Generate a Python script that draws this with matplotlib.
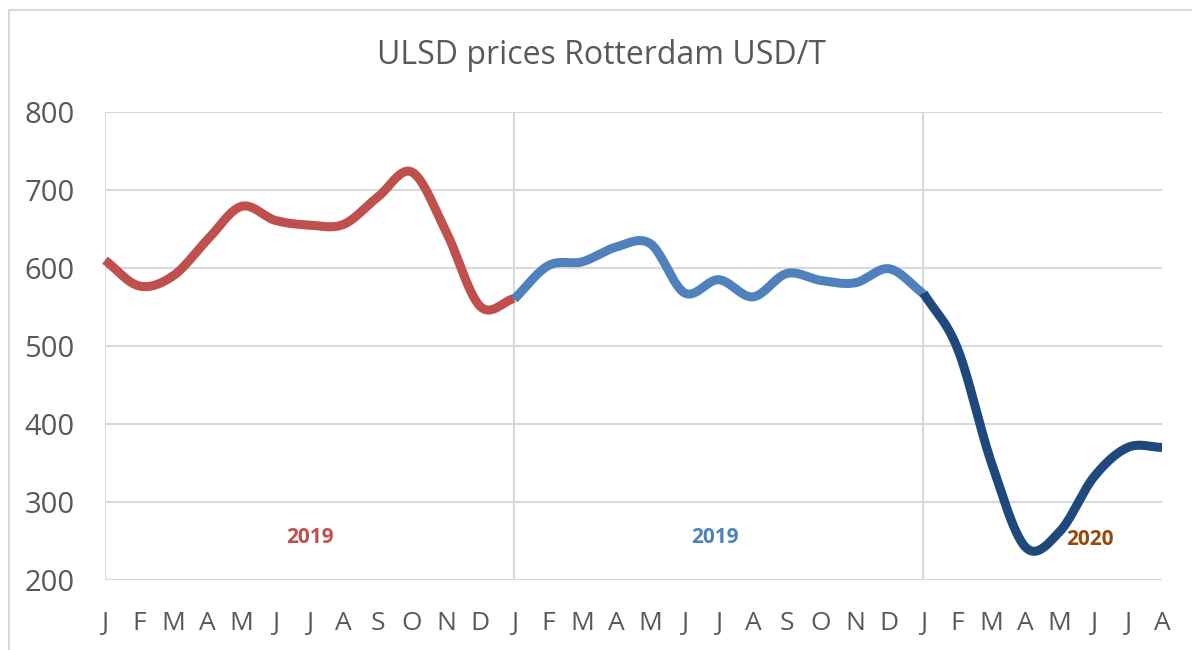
import numpy as np
import matplotlib.pyplot as plt
from matplotlib.patches import Rectangle

plt.rcParams['font.family'] = ['Open Sans', 'DejaVu Sans']

month_labels = list("JFMAMJJASOND") * 2 + list("JFMAMJJA")

# monthly prices, USD/T
prices_a = [610, 577, 590, 636, 679, 661, 655, 656, 691, 723, 647, 551, 561]   # J..J
prices_b = [560, 603, 608, 627, 631, 568, 585, 563, 593, 584, 581, 599, 567]   # J..J
prices_c = [568, 497, 350, 242, 262, 332, 370, 370]                          # J..A

start_a, start_b, start_c = 0, 12, 24

colors = ['#C0504D', '#4F81BD', '#1F497D']
year_labels = ['2019', '2019', '2020']
year_label_colors = ['#C0504D', '#4F81BD', '#984807']
year_label_pos = [(6.0, 254), (17.9, 254), (28.9, 252)]


def smooth(x, y, n=30):  # catmull-rom curve through the points, like excel's smoothed line
    x = np.asarray(x, float)
    y = np.asarray(y, float)
    px = np.concatenate([[2 * x[0] - x[1]], x, [2 * x[-1] - x[-2]]])
    py = np.concatenate([[2 * y[0] - y[1]], y, [2 * y[-1] - y[-2]]])
    t = np.linspace(0, 1, n)[:-1]
    xs, ys = [], []
    for i in range(1, len(px) - 2):
        for p, out in ((px, xs), (py, ys)):
            p0, p1, p2, p3 = p[i - 1], p[i], p[i + 1], p[i + 2]
            out.append(0.5 * (2 * p1 + (-p0 + p2) * t + (2 * p0 - 5 * p1 + 4 * p2 - p3) * t ** 2
                              + (-p0 + 3 * p1 - 3 * p2 + p3) * t ** 3))
    xs.append([x[-1]])
    ys.append([y[-1]])
    return np.concatenate(xs), np.concatenate(ys)


fig = plt.figure(figsize=(11.92, 6.5), dpi=100)
ax = fig.add_axes([105 / 1192, 1 - 580 / 650, (1162 - 105) / 1192, (580 - 112) / 650])

# chart border
fig.patches.append(Rectangle((9 / 1192, -0.1), 1.2, 1 - 10 / 650 + 0.1, transform=fig.transFigure,
                             fill=False, edgecolor='#D9D9D9', linewidth=1.5))

series = [(start_a, prices_a), (start_b, prices_b), (start_c, prices_c)]
for i, (start, vals) in enumerate(series):
    xs, ys = smooth(np.arange(start, start + len(vals)), vals)
    ax.plot(xs, ys, color=colors[i], linewidth=6.5, solid_capstyle='butt', zorder=3 + i, clip_on=False)

for i, (xp, yp) in enumerate(year_label_pos):
    ax.text(xp, yp, year_labels[i], color=year_label_colors[i], fontsize=15, fontweight='bold',
            ha='center', va='center', zorder=10)

for xv in (0, 12, 24):
    ax.axvline(xv, color='#D9D9D9', linewidth=1.5, zorder=1)

ax.set_xlim(0, 31)
ax.set_ylim(200, 800)
ax.set_yticks(range(200, 801, 100))
ax.set_xticks(range(len(month_labels)))
ax.set_xticklabels(month_labels)
ax.yaxis.grid(True, color='#D9D9D9', linewidth=1.5, zorder=1)
ax.set_axisbelow(True)
for s in ax.spines.values():
    s.set_visible(False)
ax.tick_params(axis='both', length=0, colors='#595959')
ax.tick_params(axis='y', labelsize=21, pad=22)
ax.tick_params(axis='x', labelsize=19, pad=22)

fig.text(0.505, 1 - 55 / 650, 'ULSD prices Rotterdam USD/T', fontsize=23, color='#595959',
         ha='center', va='center')

plt.savefig('out.png', dpi=100)
